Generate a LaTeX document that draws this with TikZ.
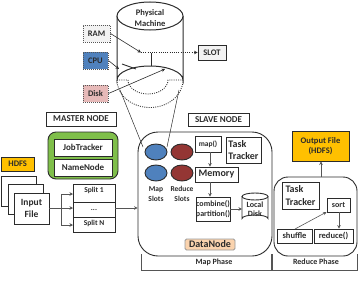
\documentclass[tikz,border=0pt]{standalone}
\usepackage{fontspec}
\setmainfont{Carlito}
\usetikzlibrary{arrows.meta,shapes.geometric,calc}
\definecolor{ink}{HTML}{2B2B2B}
\definecolor{wire}{HTML}{555555}
\definecolor{slotblue}{HTML}{4F81BD}
\definecolor{slotred}{HTML}{943634}
\definecolor{amber}{HTML}{FFC000}
\definecolor{leaf}{HTML}{7FBF4A}
\definecolor{peach}{HTML}{FAD3AE}
\definecolor{rose}{HTML}{E6B9B8}
\definecolor{paper}{HTML}{F2F2F2}
\newcommand{\fsz}[2]{\fontsize{#1}{#2}\selectfont\bfseries}
\tikzset{
  boxed/.style={draw=ink,line width=0.9pt,inner sep=0pt,align=center,text=ink,font=\fsz{9}{10}},
  flow/.style={draw=wire,line width=0.8pt,-{Stealth[length=3.5pt,width=3.5pt]}},
  thinflow/.style={draw=ink,line width=0.6pt,-{Stealth[length=3.5pt,width=3.5pt]}},
  link/.style={draw=ink,line width=0.8pt,dash pattern=on 1pt off 1.2pt,-{Stealth[length=3.5pt,width=3.5pt]}},
  dots/.style={draw=ink,line width=0.8pt,dash pattern=on 1pt off 1.2pt},
  tag/.style={draw=wire,dash pattern=on 1pt off 1pt},
  divider/.style={draw=ink,line width=0.9pt},
  rim/.style={draw=ink,line width=1pt},
  caption/.style={inner sep=0pt,align=center,text=ink,font=\fsz{7.5}{9.5}},
  slot/.style={ellipse,draw=ink,line width=0.9pt,minimum width=22pt,minimum height=16pt,inner sep=0pt},
  phase/.style={draw=wire,line width=0.8pt},
  funnel/.style={draw=ink,line width=0.5pt},
}
% \rect{name}{x0}{y0}{x1}{y1}{style}{text}
\newcommand{\rect}[7]{%
  \pgfmathsetmacro{\rw}{#4-#2}\pgfmathsetmacro{\rh}{#5-#3}%
  \node[boxed,minimum width=\rw pt,minimum height=\rh pt,#6] (#1) at ({(#2+#4)/2},{(#3+#5)/2}) {#7};}
\begin{document}
\begin{tikzpicture}[x=1pt,y=-1pt]
\useasboundingbox (0,0) rectangle (358,281);

% physical machine cylinder
\draw[rim] (117,16) -- (117,80) arc[start angle=180,end angle=360,x radius=33,y radius=14] -- (183,16);
\draw[rim,fill=white] (150,16) ellipse[x radius=33,y radius=14];
\node[caption,font=\fsz{8.5}{10.5}] (pm) at (150,18) {Physical\\Machine};

% slot sectors inside the cylinder
\draw[dots] (117,80) arc[start angle=180,end angle=0,x radius=33,y radius=27.5];
\draw[dots] (117,80) -- (128,80) arc[start angle=180,end angle=0,x radius=20,y radius=14] -- (183,80);
\draw[divider] (122,64) -- (136,69);
\draw[divider] (151,53) -- (151,66);
\coordinate (hubTop) at (141,52.5);
\coordinate (hubCpu) at (119,69);
\coordinate (hubDisk) at (165,69);

% resources
\rect{ram}{83}{25}{110}{42}{tag,fill=paper,font=\fsz{8.5}{10}}{RAM}
\rect{cpu}{83}{52}{108}{69}{tag,fill=slotblue,font=\fsz{8.5}{10}}{CPU}
\rect{disk}{83}{85}{108}{102}{tag,fill=rose,font=\fsz{8.5}{10}}{Disk}
\rect{slotbox}{198}{45}{226}{60}{fill=paper,font=\fsz{8.5}{10}}{SLOT}
\draw[thinflow] (ram.east) -- (hubTop);
\draw[thinflow] (cpu.east) -- (hubCpu);
\draw[thinflow] (disk.east) -- (hubDisk);
\draw[link] (hubTop) -- (slotbox.west);

% master node
\rect{master}{46}{112}{116}{126}{}{MASTER NODE}
\rect{greenbox}{48}{132}{118}{179}{rounded corners=8pt,fill=leaf}{}
\rect{jt}{54}{139}{112}{156}{fill=white}{JobTracker}
\rect{nn}{54}{159}{112}{176}{fill=white}{NameNode}

% input side
\rect{hdfs}{1.5}{157}{34}{171}{fill=amber,font=\fsz{8.5}{10}}{HDFS}
\rect{pageA}{1.5}{176}{36}{206}{fill=white}{}
\rect{pageB}{8}{184}{43}{214}{fill=white}{}
\rect{input}{14}{193}{49}{224}{fill=white,font=\fsz{9.5}{11.5}}{Input\\File}
\rect{splitA}{73}{184}{115}{202}{}{}
\rect{splitB}{73}{202}{115}{217}{font=\fsz{7.5}{9}}{...}
\rect{splitC}{73}{217}{115}{232}{}{}
\node[caption] (splitAtext) at (94,190) {Split 1};
\node[caption] (splitCtext) at (94,223) {Split N};
\coordinate (fork) at (61,208);
\draw[wire,line width=0.8pt] (input.east |- fork) -- (fork);
\draw[flow] (fork) |- (73,194);
\draw[flow] (fork) -- (73,208);
\draw[flow] (fork) |- (73,225);

% slave node
\rect{slave}{188}{113}{249}{126}{}{SLAVE NODE}
\rect{slavebody}{138}{132}{272}{256}{rounded corners=20pt}{}
\draw[flow] (115,208) -- (slavebody.west |- 0,208);
\draw[funnel] (120,90) -- (143,147);
\draw[funnel] (179,90) -- (167,147);
\node[slot,fill=slotblue] (mapA) at (156,152) {};
\node[slot,fill=slotblue] (mapB) at (156,173) {};
\node[slot,fill=slotred] (redA) at (182,152) {};
\node[slot,fill=slotred] (redB) at (182,173) {};
\node[caption] (maplabel) at (156,194) {Map\\Slots};
\node[caption] (redlabel) at (182,194) {Reduce\\Slots};
\rect{mapfn}{195}{136}{221}{152}{font=\fsz{7.5}{9}}{map()}
\rect{tt}{226}{137}{261}{163}{align=left,font=\fsz{10}{12.5}}{Task\\Tracker}
\rect{mem}{195}{167}{238}{182}{font=\fsz{10}{11}}{Memory}
\rect{comb}{196}{197}{230}{221}{font=\fsz{8}{10}}{combine()\\partition()}
\rect{dn}{185}{239}{235}{250}{draw=wire!60,rounded corners=1.5pt,fill=peach,font=\fsz{10}{11}}{DataNode}
\draw[flow] (mapfn.south -| 210,0) -- (mem.north -| 210,0);
\draw[flow] (mem.south -| 210,0) -- (comb.north -| 210,0);

% local disk
\draw[rim,line width=0.9pt] (242,196.5) -- (242,218.5) arc[start angle=180,end angle=360,x radius=13,y radius=3.5] -- (268,196.5);
\draw[rim,line width=0.9pt,fill=white] (255,196.5) ellipse[x radius=13,y radius=3.5];
\node[caption,font=\fsz{8}{9.5}] (ld) at (255,209) {Local\\Disk};
\coordinate (ldin) at (242,209);
\draw[flow] (comb.east |- ldin) -- (ldin);

% reduce side
\rect{reducebody}{274}{177}{357}{256}{rounded corners=14pt}{}
\rect{out}{292}{131}{349}{161}{fill=amber,font=\fsz{8.5}{10.5}}{Output File\\(HDFS)}
\draw[flow] (reducebody.north -| 321,0) -- (out.south -| 321,0);
\rect{rtt}{282}{182}{319}{209}{align=left,font=\fsz{10}{12.5}}{Task\\Tracker}
\rect{sortbox}{327}{198}{350}{212}{font=\fsz{8}{9}}{sort}
\rect{shuf}{277}{229}{312}{243}{font=\fsz{8.5}{9}}{shuffle}
\rect{redfn}{314}{229}{353}{243}{font=\fsz{8.5}{9}}{reduce()}
\draw[flow,line width=0.6pt] (295,229) -- (sortbox.west |- 0,212);
\draw[flow] (sortbox.south -| 339,0) -- (redfn.north -| 339,0);

% phase brackets
\coordinate (mapL) at (141,254);
\coordinate (mapR) at (271,254);
\coordinate (redL) at (272,254);
\coordinate (redR) at (357,254);
\draw[phase] (mapL) -- (141,270) -- (271,270) -- (mapR);
\draw[phase] (redL) -- (272,270) -- (357,270) -- (redR);
\node[caption,font=\fsz{8}{9}] (mapphase) at (214,262) {Map Phase};
\node[caption,font=\fsz{8}{9}] (redphase) at (316,262) {Reduce Phase};
\end{tikzpicture}
\end{document}
